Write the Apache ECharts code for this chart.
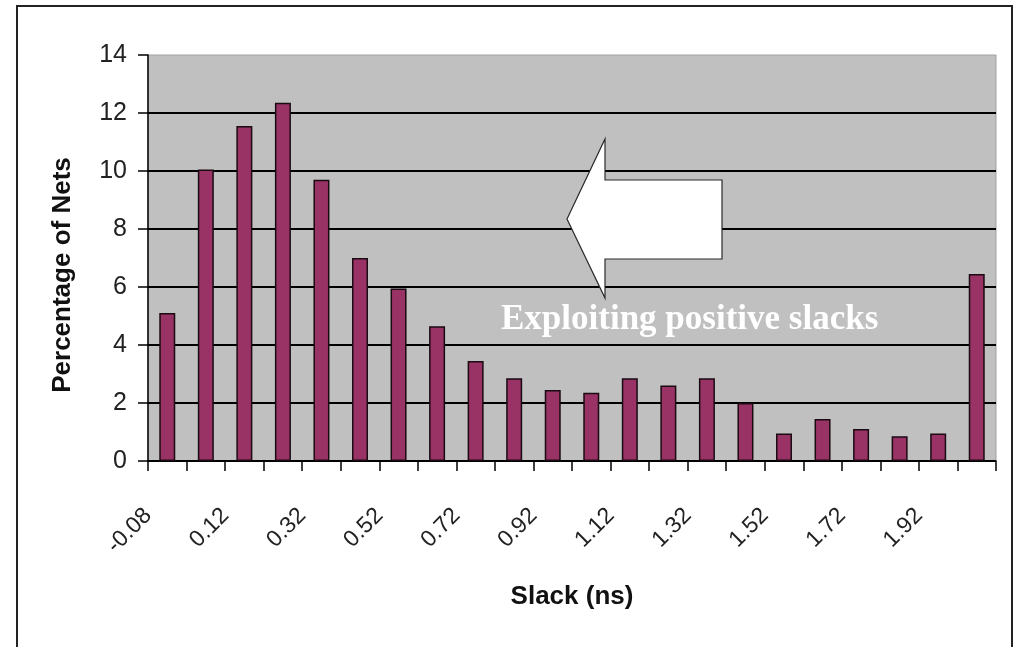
<!DOCTYPE html>
<html>
<head>
<meta charset="utf-8">
<script src="https://cdn.jsdelivr.net/npm/echarts@6/dist/echarts.min.js"></script>
<style>
  html, body { margin: 0; padding: 0; background: #ffffff; }
  #chart { width: 1013px; height: 647px; }
</style>
</head>
<body>
<div id="chart"></div>
<script>
// Slack bins (ns) and share of nets falling in each bin
const slackBins = ['-0.08', '0.02', '0.12', '0.22', '0.32', '0.42', '0.52', '0.62',
  '0.72', '0.82', '0.92', '1.02', '1.12', '1.22', '1.32', '1.42', '1.52', '1.62',
  '1.72', '1.82', '1.92', '2.02'];
const netPercent = [5.1, 10.05, 11.55, 12.35, 9.7, 7.0, 5.95, 4.65,
  3.45, 2.85, 2.45, 2.35, 2.85, 2.6, 2.85, 2.0, 0.95, 1.45,
  1.1, 0.85, 0.95, 6.45];
const yTicks = { min: 0, max: 14, step: 2 };
const axisTitles = { x: 'Slack (ns)', y: 'Percentage of Nets' };
const noteText = 'Exploiting positive slacks';

const chart = echarts.init(document.getElementById('chart'), null, { renderer: 'canvas' });

chart.setOption({
  animation: false,
  backgroundColor: '#ffffff',
  grid: {
    left: 148, right: 17, top: 55, bottom: 186,
    show: true,
    backgroundColor: '#c0c0c0',
    borderColor: '#a0a0a0',
    borderWidth: 1
  },
  xAxis: {
    type: 'category',
    data: slackBins,
    boundaryGap: true,
    name: axisTitles.x,
    nameLocation: 'middle',
    nameGap: 123,
    nameTextStyle: {
      fontFamily: 'Liberation Sans, Arial, sans-serif',
      fontWeight: 'bold', fontSize: 26, color: '#111'
    },
    axisLine: { lineStyle: { color: '#000', width: 1.5 } },
    axisTick: { show: true, interval: 0, length: 10, lineStyle: { color: '#000', width: 1.5 } },
    axisLabel: {
      interval: 1,
      rotate: 45,
      margin: 32,
      padding: [0, 27, 0, 0],
      fontFamily: 'Liberation Sans, Arial, sans-serif',
      fontSize: 23,
      color: '#222'
    },
    splitLine: { show: false }
  },
  yAxis: {
    type: 'value',
    min: yTicks.min, max: yTicks.max, interval: yTicks.step,
    name: axisTitles.y,
    nameLocation: 'middle',
    nameGap: 72,
    nameTextStyle: {
      fontFamily: 'Liberation Sans, Arial, sans-serif',
      fontWeight: 'bold', fontSize: 26, color: '#111',
      padding: [0, 34, 0, 0]
    },
    axisLine: { show: true, lineStyle: { color: '#000', width: 1.5 } },
    axisTick: { show: true, length: 10, lineStyle: { color: '#000', width: 1.5 } },
    axisLabel: {
      margin: 21,
      fontFamily: 'Liberation Sans, Arial, sans-serif',
      fontSize: 25,
      color: '#222'
    },
    splitLine: {
      show: true,
      showMaxLine: false,
      lineStyle: { color: '#000', width: 2 }
    }
  },
  series: [{
    type: 'bar',
    data: netPercent,
    barWidth: 16,
    itemStyle: {
      color: '#993366',
      borderColor: '#1a0a12',
      borderWidth: 1.5
    },
    z: 3
  }],
  graphic: [
    // outer chart frame
    {
      type: 'rect',
      shape: { x: 17, y: 6, width: 995, height: 680 },
      style: { fill: null, stroke: '#222', lineWidth: 2 },
      z: 0, silent: true
    },
    // left-pointing block arrow
    {
      type: 'polygon',
      shape: {
        points: [[567, 219], [605, 139], [605, 180], [722, 180],
                 [722, 259], [605, 259], [605, 298]]
      },
      style: { fill: '#ffffff', stroke: '#2a2a2a', lineWidth: 1.2 },
      z: 10, silent: true
    },
    {
      type: 'text',
      x: 501, y: 302,
      style: {
        text: noteText,
        fill: '#ffffff',
        font: 'bold 35px "Liberation Serif", "Times New Roman", serif',
        verticalAlign: 'top'
      },
      z: 10, silent: true
    }
  ]
});
</script>
</body>
</html>
